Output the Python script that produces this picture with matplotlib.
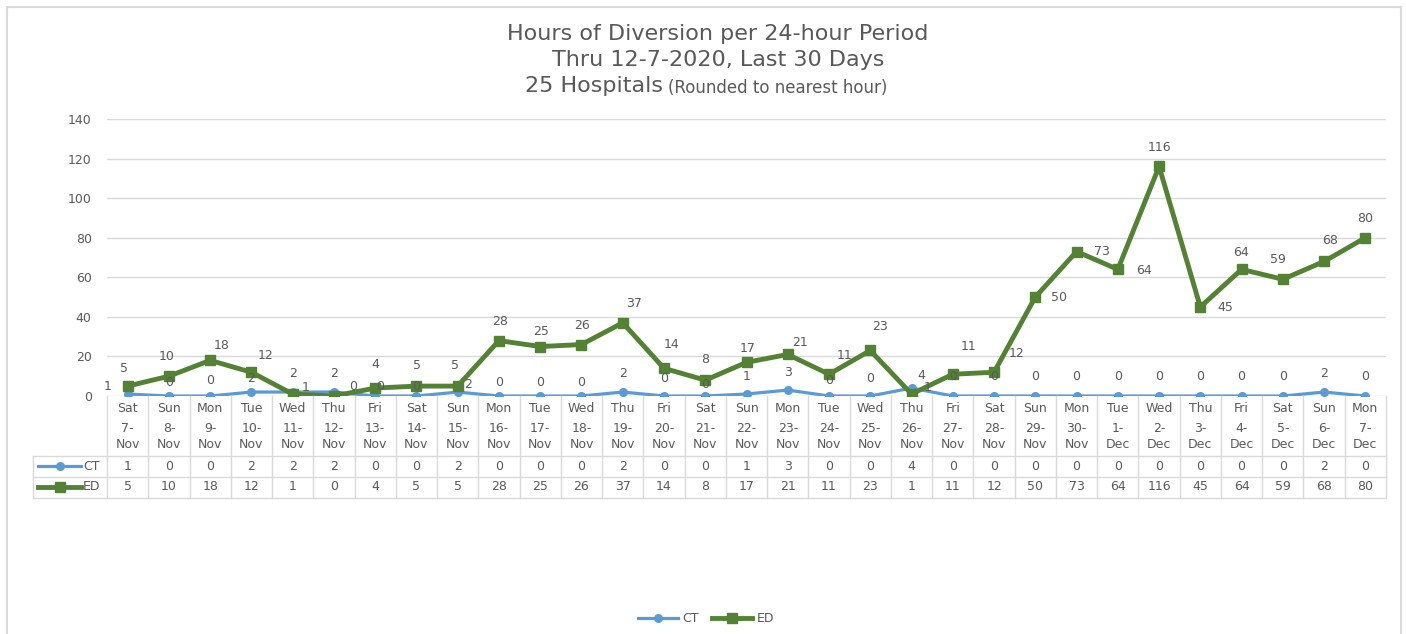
import matplotlib
matplotlib.use("Agg")
import matplotlib.pyplot as plt
from matplotlib.lines import Line2D
from matplotlib.transforms import blended_transform_factory

plt.rcParams["font.family"] = ["DejaVu Sans"]

# ----------------------------------------------------------
# Data
# ----------------------------------------------------------
days = ["Sat", "Sun", "Mon", "Tue", "Wed", "Thu", "Fri",
        "Sat", "Sun", "Mon", "Tue", "Wed", "Thu", "Fri",
        "Sat", "Sun", "Mon", "Tue", "Wed", "Thu", "Fri",
        "Sat", "Sun", "Mon", "Tue", "Wed", "Thu", "Fri",
        "Sat", "Sun", "Mon"]
dates = ["7-Nov", "8-Nov", "9-Nov", "10-Nov", "11-Nov", "12-Nov", "13-Nov",
         "14-Nov", "15-Nov", "16-Nov", "17-Nov", "18-Nov", "19-Nov", "20-Nov",
         "21-Nov", "22-Nov", "23-Nov", "24-Nov", "25-Nov", "26-Nov", "27-Nov",
         "28-Nov", "29-Nov", "30-Nov", "1-Dec", "2-Dec", "3-Dec", "4-Dec",
         "5-Dec", "6-Dec", "7-Dec"]
ct = [1, 0, 0, 2, 2, 2, 0, 0, 2, 0, 0, 0, 2, 0, 0, 1, 3, 0, 0, 4, 0,
      0, 0, 0, 0, 0, 0, 0, 0, 2, 0]
ed = [5, 10, 18, 12, 1, 0, 4, 5, 5, 28, 25, 26, 37, 14, 8, 17, 21, 11, 23, 1, 11,
      12, 50, 73, 64, 116, 45, 64, 59, 68, 80]
y_ticks = [0, 20, 40, 60, 80, 100, 120, 140]

# label offsets in pixels (style only)
ed_off = [(-4, 18), (-2, 20), (11, 15), (14, 17), (13, 7), (19, 9), (0, 24),
          (1, 21), (-3, 21), (1, 19), (1, 15), (1, 19), (11, 19), (8, 24),
          (0, 21), (1, 14), (12, 12), (16, 19), (10, 24), (16, 7), (16, 28),
          (22, 19), (24, 0), (25, 0), (26, -1), (0, 19), (25, -1), (-1, 17),
          (-5, 20), (6, 21), (0, 19)]
ct_off = [(-20, 8), (0, 13), (0, 15), (0, 14), (0, 19), (0, 19), (5, 9),
          (0, 9), (10, 8), (0, 14), (0, 14), (0, 14), (0, 19), (0, 18),
          (0, 12), (0, 18), (0, 18), (0, 15), (0, 18), (10, 13), (0, 19),
          (0, 19), (0, 19), (0, 19), (0, 19), (0, 19), (0, 19), (0, 19),
          (0, 19), (0, 19), (0, 19)]

CT_COL = "#5B9BD5"
ED_COL = "#548235"
TXT = "#595959"
GRID = "#D9D9D9"
FS = 9

W, H = 1406, 634
fig = plt.figure(figsize=(W / 100, H / 100), dpi=100)


def fy(px):
    return 1 - px / H


def fx(px):
    return px / W


# outer chart border
fig.add_artist(Line2D([fx(7), fx(7), fx(1401), fx(1401)],
                      [fy(640), fy(7), fy(7), fy(640)],
                      color="#D9D9D9", lw=1.5))

ax = fig.add_axes([fx(107), fy(396), fx(1386) - fx(107), fy(119) - fy(396)])
x = list(range(len(days)))
ax.set_xlim(-0.5, len(days) - 0.5)
ax.set_ylim(0, 140)
ax.set_yticks(y_ticks)
ax.set_yticklabels([str(v) for v in y_ticks], fontsize=FS, color=TXT)
ax.tick_params(axis="y", length=0, pad=11)
ax.set_xticks([])
for s in ax.spines.values():
    s.set_visible(False)
ax.grid(axis="y", color=GRID, lw=1)
ax.set_axisbelow(True)

ax.plot(x, ct, color=CT_COL, lw=2.3, marker="o", ms=5.5, zorder=3,
        solid_capstyle="round")
ax.plot(x, ed, color=ED_COL, lw=3.5, marker="s", ms=7, zorder=4)

for i in x:
    ax.annotate(str(ed[i]), (i, ed[i]), xytext=ed_off[i],
                textcoords="offset pixels", ha="center", va="center",
                fontsize=FS, color=TXT, zorder=5)
    ax.annotate(str(ct[i]), (i, ct[i]), xytext=ct_off[i],
                textcoords="offset pixels", ha="center", va="center",
                fontsize=FS, color=TXT, zorder=5)

# ----------------------------------------------------------
# Data table under the axis
# ----------------------------------------------------------
tr = blended_transform_factory(ax.transData, fig.transFigure)
tbl_kw = dict(color=GRID, lw=1, clip_on=False)
for b in range(len(days) + 1):
    fig.add_artist(Line2D([b - 0.5, b - 0.5], [fy(396), fy(498)],
                          transform=tr, **tbl_kw))
for yy in (456, 477, 498):
    fig.add_artist(Line2D([fx(33), fx(1386)], [fy(yy), fy(yy)], **tbl_kw))
fig.add_artist(Line2D([fx(33), fx(33)], [fy(456), fy(498)], **tbl_kw))

for i in x:
    fig.text(i, fy(408), days[i], transform=tr, ha="center", va="center",
             fontsize=FS, color=TXT)
    d, m = dates[i].split("-")
    fig.text(i, fy(428), d + "-", transform=tr, ha="center", va="center",
             fontsize=FS, color=TXT)
    fig.text(i, fy(444), m, transform=tr, ha="center", va="center",
             fontsize=FS, color=TXT)
    fig.text(i, fy(466), str(ct[i]), transform=tr, ha="center", va="center",
             fontsize=FS, color=TXT)
    fig.text(i, fy(487), str(ed[i]), transform=tr, ha="center", va="center",
             fontsize=FS, color=TXT)

# legend keys inside the table
fig.add_artist(Line2D([fx(38), fx(81)], [fy(466), fy(466)], color=CT_COL,
                      lw=2.3))
fig.add_artist(Line2D([fx(60)], [fy(466)], color=CT_COL, marker="o", ms=5.5))
fig.text(fx(83), fy(466), "CT", ha="left", va="center", fontsize=FS, color=TXT)
fig.add_artist(Line2D([fx(38), fx(81)], [fy(487), fy(487)], color=ED_COL,
                      lw=3.5))
fig.add_artist(Line2D([fx(60)], [fy(487)], color=ED_COL, marker="s", ms=7))
fig.text(fx(83), fy(487), "ED", ha="left", va="center", fontsize=FS, color=TXT)

# bottom legend
fig.add_artist(Line2D([fx(638), fx(678)], [fy(618), fy(618)], color=CT_COL,
                      lw=2.3))
fig.add_artist(Line2D([fx(658)], [fy(618)], color=CT_COL, marker="o", ms=5.5))
fig.text(fx(682), fy(618), "CT", ha="left", va="center", fontsize=FS, color=TXT)
fig.add_artist(Line2D([fx(712), fx(752)], [fy(618), fy(618)], color=ED_COL,
                      lw=3.5))
fig.add_artist(Line2D([fx(732)], [fy(618)], color=ED_COL, marker="s", ms=7))
fig.text(fx(757), fy(618), "ED", ha="left", va="center", fontsize=FS, color=TXT)

# ----------------------------------------------------------
# Title
# ----------------------------------------------------------
fig.text(fx(718), fy(34), "Hours of Diversion per 24-hour Period",
         ha="center", va="center", fontsize=16, color=TXT)
fig.text(fx(718), fy(60), "Thru 12-7-2020, Last 30 Days",
         ha="center", va="center", fontsize=16, color=TXT)
fig.text(fx(525), fy(86), "25 Hospitals", ha="left", va="center",
         fontsize=16, color=TXT)
fig.text(fx(668), fy(88), "(Rounded to nearest hour)", ha="left",
         va="center", fontsize=12, color=TXT)

fig.savefig("out.png", dpi=100)
